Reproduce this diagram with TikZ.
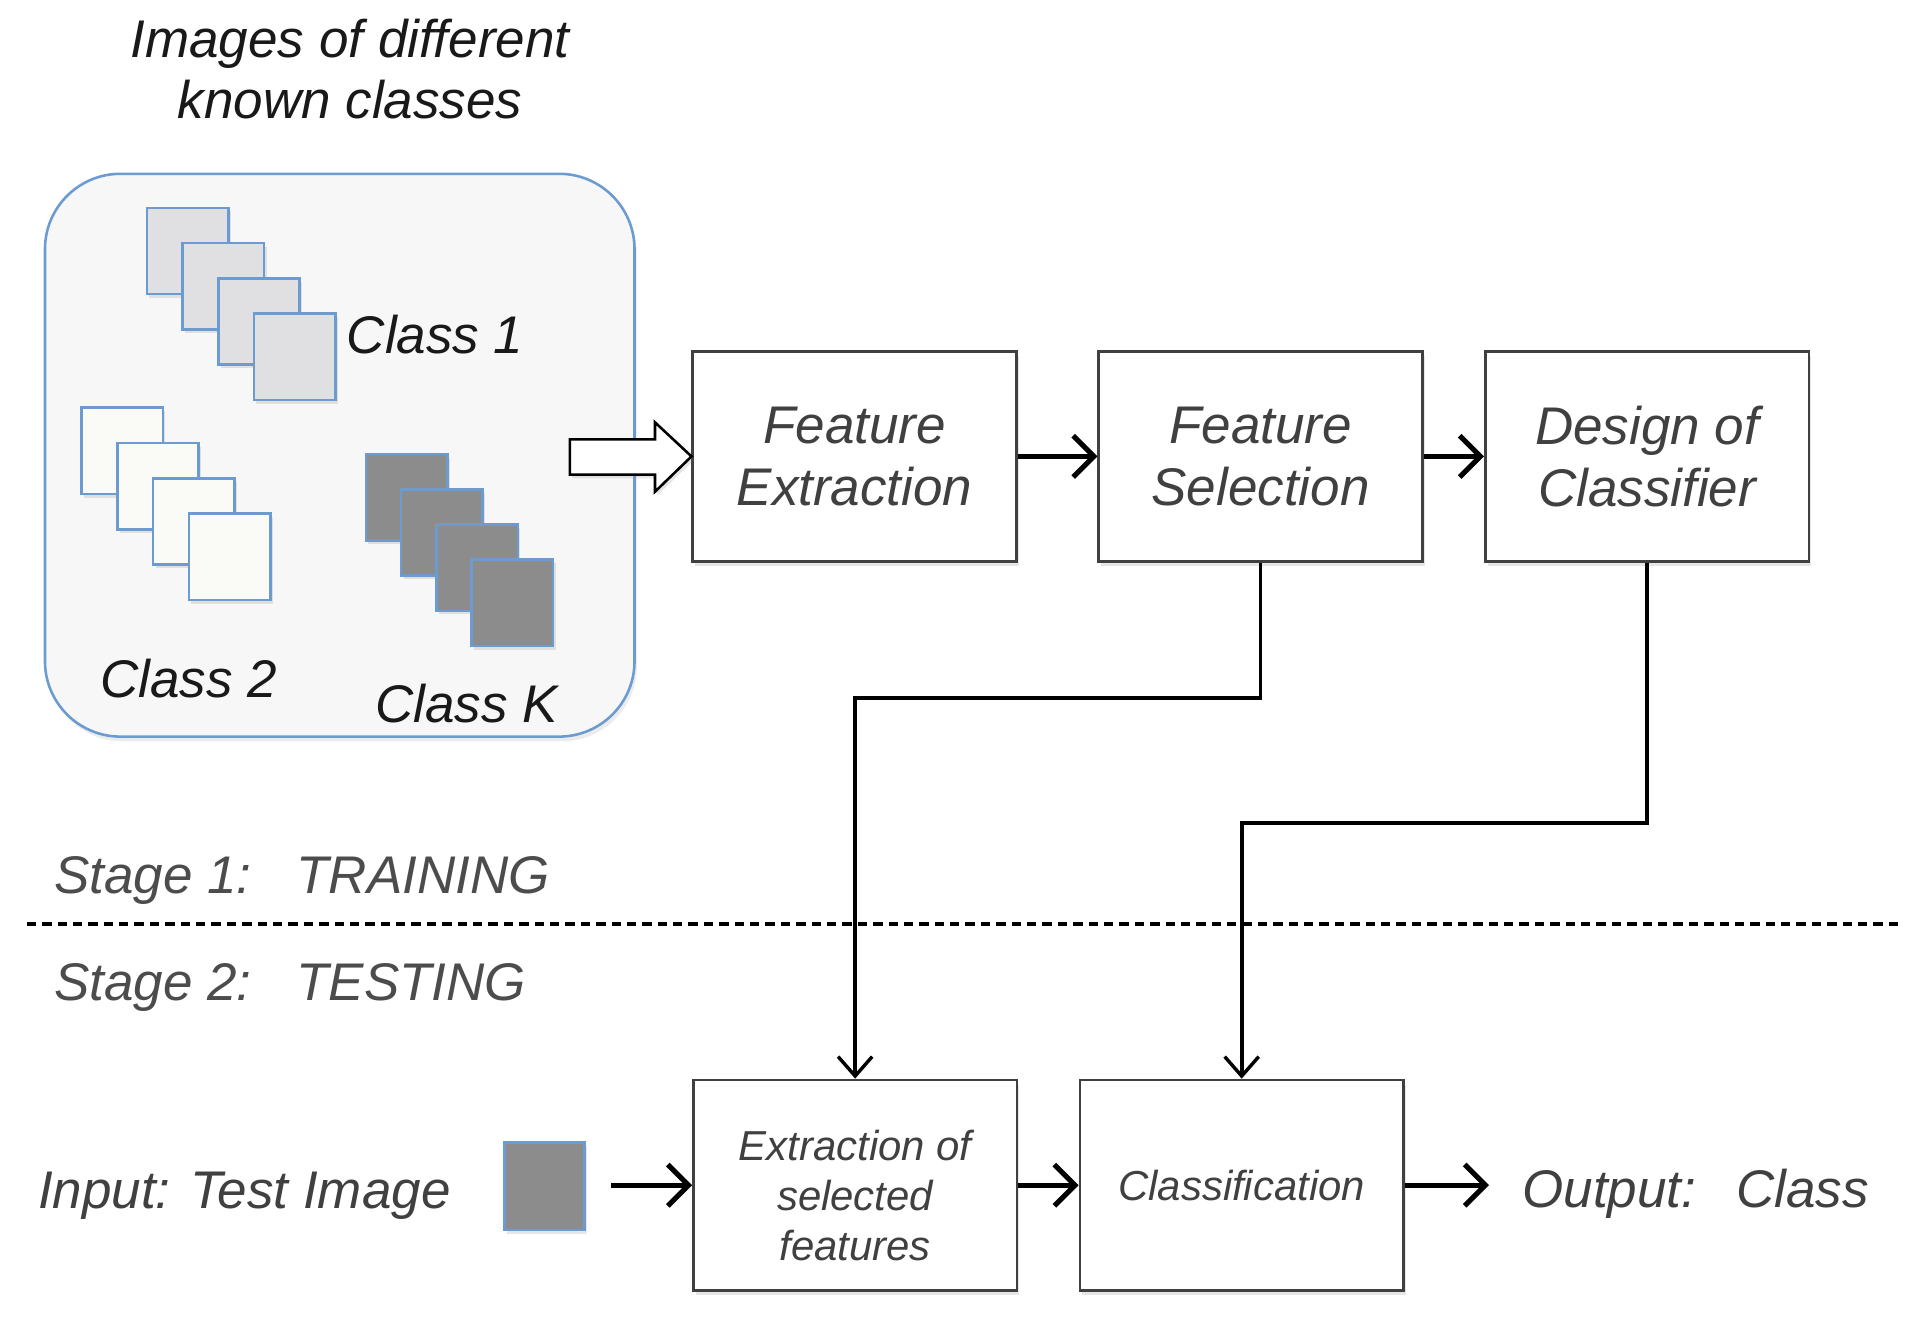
\documentclass[tikz,border=0pt]{standalone}
\usepackage{fontspec}
\setmainfont{Liberation Sans}
\usetikzlibrary{arrows.meta,calc,shadows}
\definecolor{boxblue}{HTML}{6C9BD2}
\definecolor{panel}{HTML}{F7F7F7}
\definecolor{lightsq}{HTML}{E0E0E2}
\definecolor{whitesq}{HTML}{FAFAF7}
\definecolor{darksq}{HTML}{8C8C8C}
\definecolor{txtgray}{HTML}{404040}
\begin{document}
\begin{tikzpicture}[x=0.01cm,y=-0.01cm,
    bigtxt/.style={font=\fontsize{12.4}{14.4}\selectfont\itshape},
    smalltxt/.style={font=\fontsize{9.8}{11.7}\selectfont\itshape},
    stagebox/.style={draw=black!75, line width=0.6pt, fill=white, minimum width=2.66cm,
        minimum height=1.73cm, inner sep=0pt, align=center, text=txtgray,
        drop shadow={shadow xshift=0.02cm, shadow yshift=-0.04cm, opacity=0.2}},
    imgsq/.style={draw=boxblue, line width=0.6pt, minimum width=0.67cm, minimum height=0.71cm,
        inner sep=0pt, drop shadow={shadow xshift=0.02cm, shadow yshift=-0.03cm, opacity=0.2}},
    flow/.style={line width=1.2pt, -{Straight Barb[length=1.7mm,width=3.4mm,line width=1.2pt]}},
    feed/.style={line width=0.9pt, -{Straight Barb[length=1.6mm,width=2.8mm,line width=0.8pt]}}]
    \useasboundingbox (0,0) rectangle (1568,1097.4);

    % training images
    \node[bigtxt, align=center, text=black!90] (title) at (288,57) {Images of different\\known classes};
    \draw[boxblue, fill=panel, line width=0.6pt, rounded corners=0.62cm,
        drop shadow={shadow xshift=0.02cm, shadow yshift=-0.04cm, opacity=0.15}]
        (37,143) rectangle (522,606);
    \foreach \i in {0,...,3} {
        \node[imgsq, fill=lightsq] (one\i) at (154.5+29.3*\i,206.5+29*\i) {};
        \node[imgsq, fill=whitesq] (two\i) at (100.5+29.5*\i,371+29*\i) {};
        \node[imgsq, fill=darksq] (kay\i) at (334.5+29*\i,409+29*\i) {};
    }
    \node[bigtxt, text=black!90] (lab1) at (358,275) {Class 1};
    \node[bigtxt, text=black!90] (lab2) at (155,558) {Class 2};
    \node[bigtxt, text=black!90] (labk) at (384,579) {Class K};

    % training stage
    \node[stagebox, bigtxt] (fe) at (703,375.5) {Feature\\Extraction};
    \node[stagebox, bigtxt] (fs) at (1037,375.5) {Feature\\Selection};
    \node[stagebox, bigtxt] (dc) at (1355,375.5) {Design of\\Classifier};
    \draw[line width=0.6pt, fill=white, line join=miter,
        drop shadow={shadow xshift=0.02cm, shadow yshift=-0.03cm, opacity=0.2}]
        ($(fe.west)+(-100,-14)$) -- ++(70,0) -- ++(0,-14) -- (fe.west) -- ++(-30,29)
        -- ++(0,-14) -- ++(-70,0) -- cycle;
    \draw[flow] (fe) -- (fs);
    \draw[flow] (fs) -- (dc);

    \node[text=black!70, anchor=west, bigtxt] (st1) at (32,724) {Stage 1:\hspace{0.85em}TRAINING};
    \draw[line width=1pt, dash pattern=on 2.2pt off 1.4pt] (22,760) -- (1562,760);
    \node[text=black!70, anchor=west, bigtxt] (st2) at (32,812) {Stage 2:\hspace{0.85em}TESTING};

    % testing stage
    \node[stagebox, smalltxt] (xs) at (703.5,975) {\rule{0pt}{1.2em}Extraction of\\selected\\features};
    \node[stagebox, smalltxt] (cl) at (1021.5,975) {Classification};
    \node[bigtxt, text=txtgray] (inp) at (201,984) {Input: Test Image};
    \node[imgsq, fill=darksq, minimum width=0.66cm, minimum height=0.72cm] (test) at (448,976) {};
    \node[bigtxt, text=txtgray, anchor=west] (out) at (1240,982) {Output:\hspace{0.75em}Class};
    \coordinate (inend) at (503,975);
    \coordinate (outend) at (1225,975);
    \draw[flow] (inend) -- (xs);
    \draw[flow] (xs) -- (cl);
    \draw[flow] (cl) -- (outend);

    \draw[feed] (fs.south) -- ++(0,111) -| (xs.north);
    \draw[feed] (dc.south) -- ++(0,214) -| (cl.north);
\end{tikzpicture}
\end{document}
